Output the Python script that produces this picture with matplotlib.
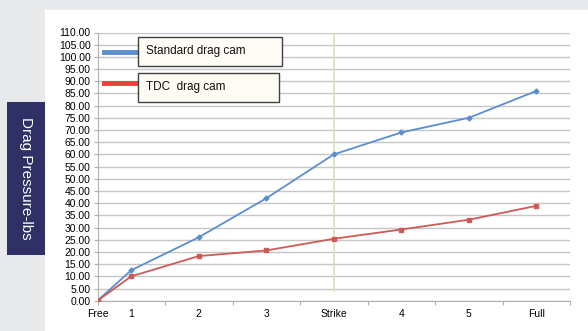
import matplotlib
matplotlib.use('Agg')
import matplotlib.pyplot as plt
from matplotlib.patches import Rectangle
from matplotlib.lines import Line2D

# chart data
categories = ['Free', '1', '2', '3', 'Strike', '4', '5', 'Full']
positions = [0, 0.5, 1.5, 2.5, 3.5, 4.5, 5.5, 6.5]
standard_cam = [0, 12.5, 26, 42, 60, 69, 75, 86]
tdc_cam = [0, 10, 18.3, 20.6, 25.4, 29.2, 33.2, 38.9]
series_names = ['Standard drag cam', 'TDC  drag cam']
y_ticks = list(range(0, 115, 5))

W, H = 588, 331
plt.rcParams['font.family'] = ['Liberation Sans', 'DejaVu Sans']
fig = plt.figure(figsize=(W / 100, H / 100), dpi=100, facecolor='#e8e9eb')

# white slide panel
fig.patches.append(Rectangle((45 / W, 0), 1 - 45 / W, 1 - 10 / H,
                             transform=fig.transFigure, facecolor='white',
                             edgecolor='none', zorder=0))
# dark label box on the left
fig.patches.append(Rectangle((7 / W, 1 - 255 / H), 38 / W, 153 / H,
                             transform=fig.transFigure, facecolor='#2f3066',
                             edgecolor='none', zorder=1))
fig.text(26 / W, 1 - 178 / H, 'Drag Pressure-lbs', rotation=-90, color='white',
         fontsize=11, ha='center', va='center')

ax = fig.add_axes([97.5 / W, 1 - 300.7 / H, (570 - 97.5) / W, (300.7 - 32.5) / H])
ax.set_facecolor('none')
ax.set_zorder(2)

ax.axvline(3.5, ymin=4 / 110, ymax=1, color='#d5e3b5', lw=1.2, zorder=1)
ax.plot(positions, standard_cam, color='#5b8ecf', lw=1.3, marker='D', ms=2.5, zorder=3)
ax.plot(positions, tdc_cam, color='#cd5a57', lw=1.3, marker='s', ms=2.5, zorder=3)

ax.set_xlim(0, 7)
ax.set_ylim(0, 110)
ax.set_yticks(y_ticks)
ax.set_yticklabels([f'{v:.2f}' for v in y_ticks])
ax.yaxis.grid(True, color='#c6c6c6', lw=1)
ax.set_axisbelow(True)
# major ticks are the category boundaries; "Free" sits on the axis itself
ax.set_xticks(range(8))
ax.set_xticklabels([categories[0]] + [''] * 7)
ax.set_xticks(positions[1:], minor=True)
ax.set_xticklabels(categories[1:], minor=True)
ax.tick_params(axis='x', which='major', length=3, color='#b0b0b0', direction='out',
               labelsize=7.5, pad=3)
ax.tick_params(axis='x', which='minor', length=0, pad=6, labelsize=7.5)
ax.tick_params(axis='y', length=3, color='#b0b0b0', labelsize=7.5, pad=2)
for side in ['top', 'right']:
    ax.spines[side].set_visible(False)
for side in ['left', 'bottom']:
    ax.spines[side].set_color('#b0b0b0')

# hand-made legend
legend_rows = [(52.3, '#5b8ecf', 36.7, 66, 281.7), (83.3, '#e8413a', 73, 101.7, 279)]
for (ly, col, top, bot, right), name in zip(legend_rows, series_names):
    fig.lines.append(Line2D([104 / W, 145 / W], [1 - ly / H, 1 - ly / H],
                            transform=fig.transFigure, color=col, lw=3.5, zorder=4))
    fig.patches.append(Rectangle((138 / W, 1 - bot / H), (right - 138) / W, (bot - top) / H,
                                 transform=fig.transFigure, facecolor='#fffcf6',
                                 edgecolor='#404040', lw=1, zorder=5))
    fig.text(146 / W, 1 - (top + bot) / 2 / H, name, fontsize=8.5, color='#111111',
             ha='left', va='center', zorder=6)

fig.savefig('out.png', dpi=100, facecolor=fig.get_facecolor())
